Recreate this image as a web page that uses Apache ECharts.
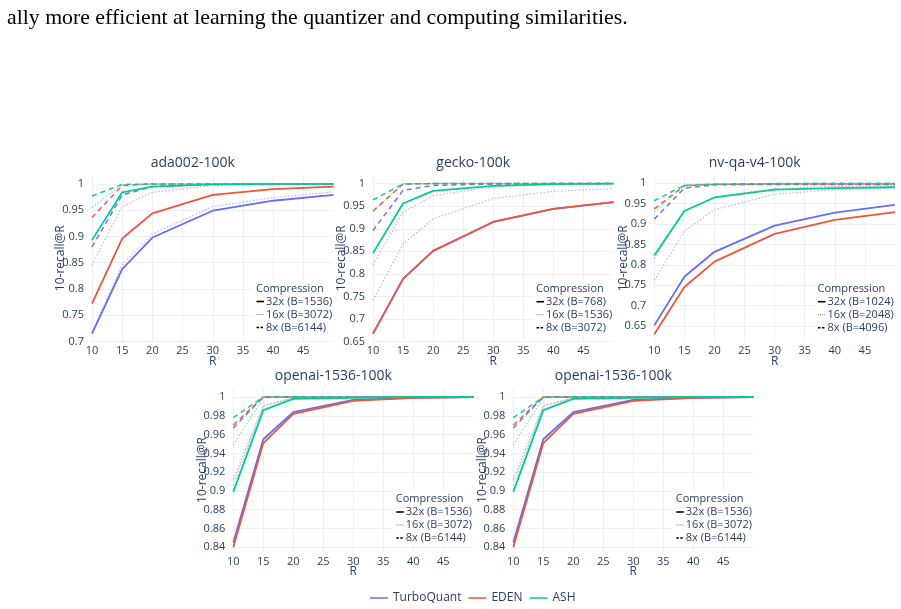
<!DOCTYPE html>
<html>
<head>
<meta charset="utf-8">
<title>10-recall@R</title>
<script src="https://cdn.jsdelivr.net/npm/echarts@6/dist/echarts.min.js"></script>
<style>
  html, body { margin: 0; padding: 0; background: #fff; }
  #main { width: 901px; height: 609px; }
  #intro {
    position: absolute; left: 7px; top: 7px;
    font-family: "Liberation Serif", serif; font-size: 21.8px; line-height: 21px;
    color: #000; white-space: nowrap;
  }
</style>
</head>
<body>
<div id="main"></div>
<div id="intro">ally more efficient at learning the quantizer and computing similarities.</div>
<script>
// R values where recall was measured
var R = [10, 15, 20, 30, 40, 50];
var xTicks = [10, 15, 20, 25, 30, 35, 40, 45];

// ada002-100k
var adaTurbo32 = [0.715, 0.838, 0.898, 0.949, 0.968, 0.979];
var adaTurbo16 = [0.718, 0.846, 0.905, 0.957, 0.974, 0.985];
var adaTurbo8  = [0.880, 0.979, 0.995, 0.999, 1.0, 1.0];
var adaEden32  = [0.772, 0.896, 0.944, 0.979, 0.990, 0.995];
var adaEden16  = [0.846, 0.957, 0.984, 0.997, 0.999, 1.0];
var adaEden8   = [0.936, 0.997, 1.0, 1.0, 1.0, 1.0];
var adaAsh32   = [0.893, 0.984, 0.995, 0.999, 1.0, 1.0];
var adaAsh16   = [0.955, 0.999, 1.0, 1.0, 1.0, 1.0];
var adaAsh8    = [0.977, 0.999, 1.0, 1.0, 1.0, 1.0];
var adaTicks   = [0.7, 0.75, 0.8, 0.85, 0.9, 0.95, 1];
var adaComp    = ['32x (B=1536)', '16x (B=3072)', '8x (B=6144)'];

// gecko-100k
var geckoTurbo32 = [0.668, 0.789, 0.851, 0.915, 0.944, 0.959];
var geckoTurbo16 = [0.742, 0.866, 0.922, 0.967, 0.983, 0.989];
var geckoTurbo8  = [0.896, 0.985, 0.996, 0.999, 1.0, 1.0];
var geckoEden32  = [0.668, 0.789, 0.851, 0.915, 0.944, 0.959];
var geckoEden16  = [0.820, 0.937, 0.973, 0.993, 0.998, 0.999];
var geckoEden8   = [0.939, 0.999, 1.0, 1.0, 1.0, 1.0];
var geckoAsh32   = [0.846, 0.956, 0.984, 0.995, 0.999, 1.0];
var geckoAsh16   = [0.940, 0.999, 1.0, 1.0, 1.0, 1.0];
var geckoAsh8    = [0.964, 0.999, 1.0, 1.0, 1.0, 1.0];
var geckoTicks   = [0.65, 0.7, 0.75, 0.8, 0.85, 0.9, 0.95, 1];
var geckoComp    = ['32x (B=768)', '16x (B=1536)', '8x (B=3072)'];

// nv-qa-v4-100k
var nvTurbo32 = [0.652, 0.771, 0.832, 0.896, 0.928, 0.947];
var nvTurbo16 = [0.762, 0.883, 0.935, 0.973, 0.984, 0.989];
var nvTurbo8  = [0.912, 0.988, 0.996, 0.997, 0.997, 0.997];
var nvEden32  = [0.630, 0.746, 0.808, 0.876, 0.910, 0.929];
var nvEden16  = [0.816, 0.932, 0.966, 0.987, 0.992, 0.994];
var nvEden8   = [0.937, 0.994, 0.997, 0.998, 0.998, 0.998];
var nvAsh32   = [0.823, 0.932, 0.965, 0.984, 0.988, 0.990];
var nvAsh16   = [0.930, 0.993, 0.997, 0.998, 0.999, 0.999];
var nvAsh8    = [0.957, 0.995, 0.998, 0.999, 1.0, 1.0];
var nvTicks   = [0.65, 0.7, 0.75, 0.8, 0.85, 0.9, 0.95, 1];
var nvComp    = ['32x (B=1024)', '16x (B=2048)', '8x (B=4096)'];

// openai-1536-100k
var oaTurbo32 = [0.845, 0.955, 0.984, 0.997, 0.999, 1.0];
var oaTurbo16 = [0.906, 0.990, 0.999, 1.0, 1.0, 1.0];
var oaTurbo8  = [0.967, 1.0, 1.0, 1.0, 1.0, 1.0];
var oaEden32  = [0.840, 0.951, 0.982, 0.996, 0.999, 1.0];
var oaEden16  = [0.912, 0.991, 0.999, 1.0, 1.0, 1.0];
var oaEden8   = [0.970, 1.0, 1.0, 1.0, 1.0, 1.0];
var oaAsh32   = [0.899, 0.986, 0.998, 0.999, 1.0, 1.0];
var oaAsh16   = [0.949, 0.999, 1.0, 1.0, 1.0, 1.0];
var oaAsh8    = [0.978, 1.0, 1.0, 1.0, 1.0, 1.0];
var oaTicks   = [0.84, 0.86, 0.88, 0.9, 0.92, 0.94, 0.96, 0.98, 1];
var oaComp    = ['32x (B=1536)', '16x (B=3072)', '8x (B=6144)'];

var methodNames  = ['TurboQuant', 'EDEN', 'ASH'];
var methodColors = ['#636efa', '#ef553b', '#00cc96'];

var txt = '#2a3f5f';
var grid = '#ebf0f8';
var font = '"Open Sans", sans-serif';

// line look per compression level: 32x solid, 16x dotted, 8x dashed
var compLine = [
  { type: 'solid', width: 1.8, opacity: 1 },
  { type: [1.5, 2], width: 1.1, opacity: 0.55 },
  { type: [5, 4], width: 1.5, opacity: 0.95 }
];
var compSample = [
  { dash: null, width: 1.6, opacity: 1 },
  { dash: [1, 1], width: 1, opacity: 0.5 },
  { dash: [2.5, 1.5], width: 1.4, opacity: 1 }
];

var panels = [
  { title: 'ada002-100k', left: 92, top: 175, width: 241.5, height: 166.5, yMin: 0.7, yMax: 1.017,
    ticks: adaTicks, comp: adaComp,
    lines: [[adaTurbo32, adaTurbo16, adaTurbo8], [adaEden32, adaEden16, adaEden8], [adaAsh32, adaAsh16, adaAsh8]] },
  { title: 'gecko-100k', left: 373, top: 175, width: 240.5, height: 166.7, yMin: 0.65, yMax: 1.019,
    ticks: geckoTicks, comp: geckoComp,
    lines: [[geckoTurbo32, geckoTurbo16, geckoTurbo8], [geckoEden32, geckoEden16, geckoEden8], [geckoAsh32, geckoAsh16, geckoAsh8]] },
  { title: 'nv-qa-v4-100k', left: 654.3, top: 175, width: 240.7, height: 166.7, yMin: 0.612, yMax: 1.02,
    ticks: nvTicks, comp: nvComp,
    lines: [[nvTurbo32, nvTurbo16, nvTurbo8], [nvEden32, nvEden16, nvEden8], [nvAsh32, nvAsh16, nvAsh8]] },
  { title: 'openai-1536-100k', left: 233.3, top: 388, width: 240, height: 164, yMin: 0.835, yMax: 1.0096,
    ticks: oaTicks, comp: oaComp,
    lines: [[oaTurbo32, oaTurbo16, oaTurbo8], [oaEden32, oaEden16, oaEden8], [oaAsh32, oaAsh16, oaAsh8]] },
  { title: 'openai-1536-100k', left: 513.3, top: 388, width: 240, height: 164, yMin: 0.835, yMax: 1.0096,
    ticks: oaTicks, comp: oaComp,
    lines: [[oaTurbo32, oaTurbo16, oaTurbo8], [oaEden32, oaEden16, oaEden8], [oaAsh32, oaAsh16, oaAsh8]] }
];

var grids = [], xAxes = [], yAxes = [], series = [], graphics = [];

panels.forEach(function (p, i) {
  grids.push({ left: p.left, top: p.top, width: p.width, height: p.height, outerBoundsMode: 'none' });

  xAxes.push({
    type: 'value', gridIndex: i, min: 10, max: 50,
    name: 'R', nameLocation: 'middle', nameGap: 14, nameMoveOverlap: false,
    nameTextStyle: { color: txt, fontSize: 12, fontFamily: font },
    axisLine: { show: false },
    axisTick: { show: false, customValues: xTicks },
    axisLabel: { customValues: xTicks, color: txt, fontSize: 11, fontFamily: font, margin: 4 },
    splitLine: { show: true, lineStyle: { color: grid, width: 1 } }
  });

  yAxes.push({
    type: 'value', gridIndex: i, min: p.yMin, max: p.yMax,
    name: '10-recall@R', nameLocation: 'middle', nameRotate: 90, nameGap: 25, nameMoveOverlap: false,
    nameTextStyle: { color: txt, fontSize: 12, fontFamily: font },
    axisLine: { show: false },
    axisTick: { show: false, customValues: p.ticks },
    axisLabel: { customValues: p.ticks, color: txt, fontSize: 11, fontFamily: font, margin: 8 },
    splitLine: { show: true, lineStyle: { color: grid, width: 1 } }
  });

  methodNames.forEach(function (m, mi) {
    p.lines[mi].forEach(function (vals, ci) {
      series.push({
        type: 'line', name: m, xAxisIndex: i, yAxisIndex: i,
        data: R.map(function (r, k) { return [r, vals[k]]; }),
        symbol: 'none', silent: true,
        itemStyle: { color: methodColors[mi] },
        lineStyle: {
          color: methodColors[mi], type: compLine[ci].type,
          width: compLine[ci].width, opacity: compLine[ci].opacity
        },
        z: 2 + mi
      });
    });
  });

  // subplot title
  graphics.push({
    type: 'text', x: p.left + p.width / 2 - 20, y: p.top - 12, z: 20,
    style: { text: p.title, fill: txt, fontSize: 14, fontFamily: font, align: 'center', verticalAlign: 'middle' }
  });

  // Compression legend in the lower right corner, white box hides the grid
  var x0 = p.left + p.width - 77.5;
  var yb = p.top + p.height;
  graphics.push({
    type: 'rect', z: 20,
    shape: { x: x0 - 3, y: yb - 61, width: 80, height: 54 },
    style: { fill: '#fff' }
  });
  graphics.push({
    type: 'text', x: x0, y: yb - 53, z: 21,
    style: { text: 'Compression', fill: txt, fontSize: 11, fontFamily: font, align: 'left', verticalAlign: 'middle' }
  });
  p.comp.forEach(function (label, ci) {
    var yy = yb - 40 + ci * 13;
    var s = compSample[ci];
    graphics.push({
      type: 'line', z: 21, shape: { x1: x0 + 0.5, y1: yy, x2: x0 + 8, y2: yy },
      style: { stroke: '#000', lineWidth: s.width, lineDash: s.dash, opacity: s.opacity }
    });
    graphics.push({
      type: 'text', x: x0 + 10, y: yy, z: 21,
      style: { text: label, fill: txt, fontSize: 11, fontFamily: font, align: 'left', verticalAlign: 'middle' }
    });
  });
});

var chart = echarts.init(document.getElementById('main'), null, { renderer: 'canvas' });
chart.setOption({
  animation: false,
  backgroundColor: '#fff',
  textStyle: { fontFamily: font },
  grid: grids,
  xAxis: xAxes,
  yAxis: yAxes,
  legend: {
    data: methodNames,
    left: 370, top: 592, padding: 0,
    icon: 'rect', itemWidth: 18, itemHeight: 1.5, itemGap: 7,
    textStyle: { color: txt, fontSize: 12, fontFamily: font }
  },
  graphic: graphics,
  series: series
});
</script>
</body>
</html>
